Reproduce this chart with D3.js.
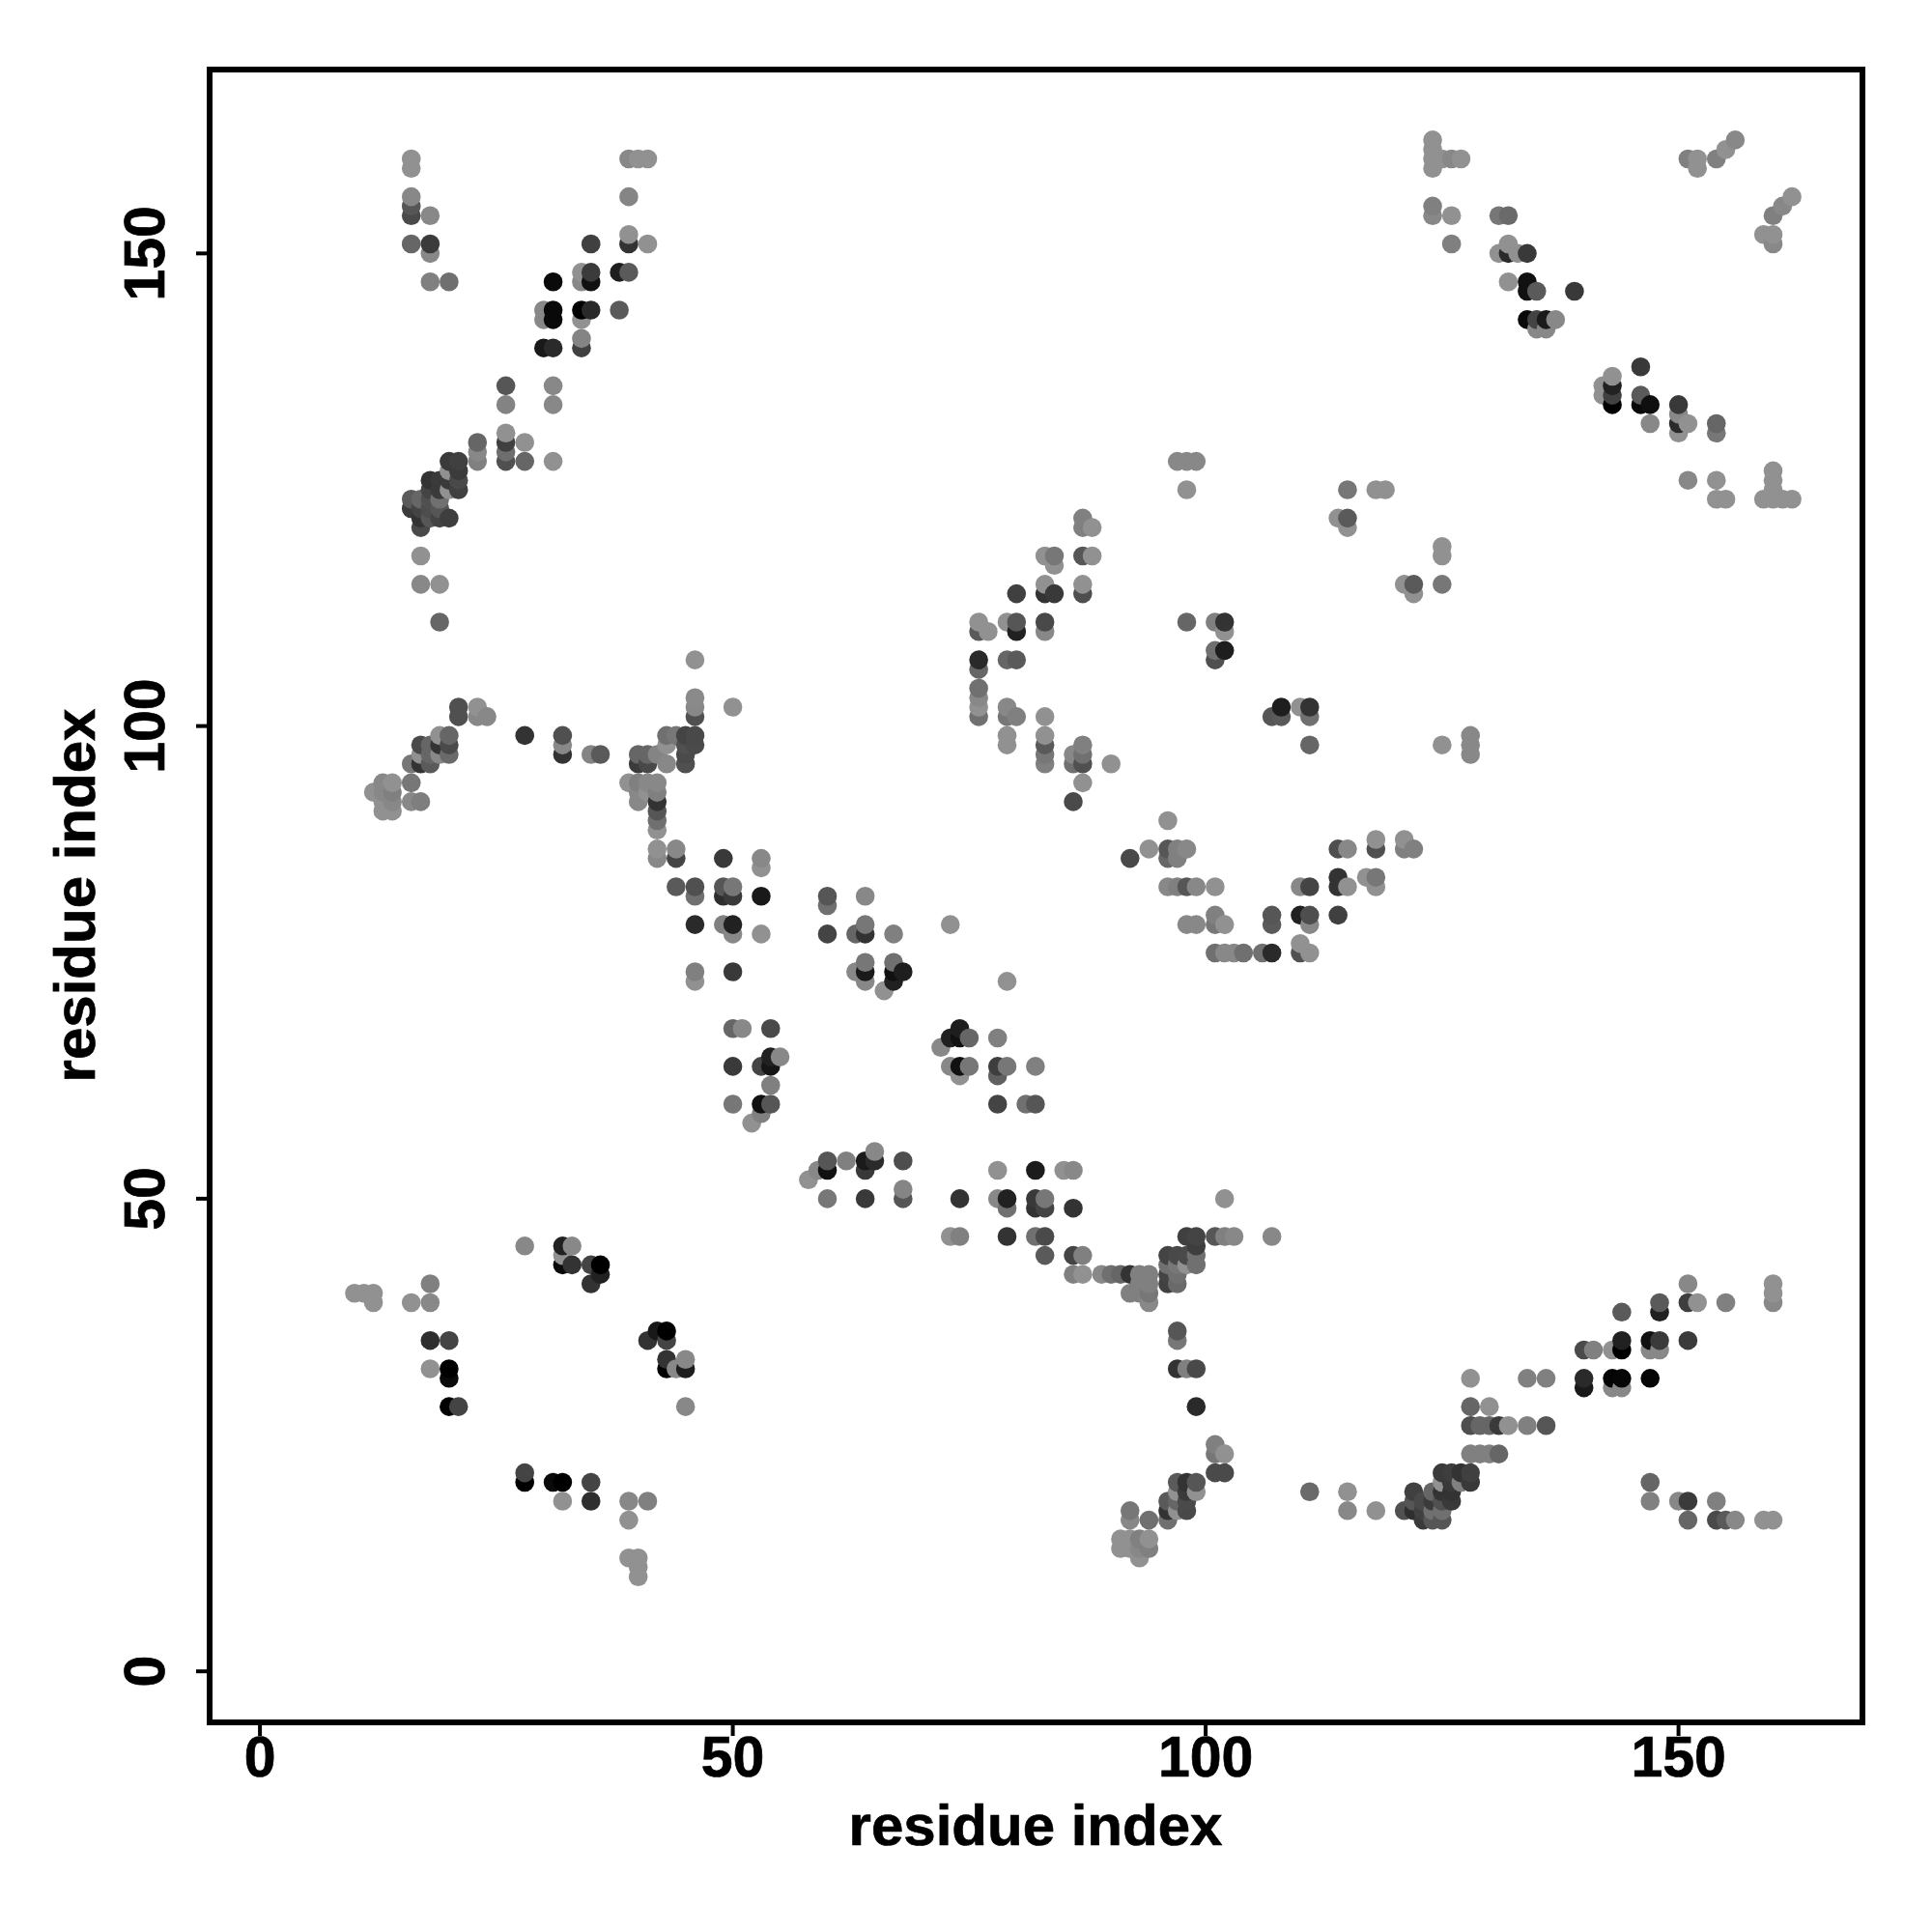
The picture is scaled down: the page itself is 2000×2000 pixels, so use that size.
<!DOCTYPE html>
<html><head><meta charset="utf-8">
<script src="https://cdn.jsdelivr.net/npm/d3@7/dist/d3.min.js"></script>
<style>html,body{margin:0;padding:0;background:#fff}svg{display:block}</style>
</head><body><div id="chart"></div>
<script>
// each contact: [residue i, residue j, strength 0..1]
const helixTopLeft = [[16,160,0],[16,159,0],[16,156,.06],[16,155,.41],[16,154,.49],[18,154,.06],[16,151,.3],[18,151,.59],[18,150,.06],[18,147,.12],[20,147,.23],
[35,151,.56],[39,151,.65],[39,152,0],[41,151,0],[39,156,.08],[39,160,.06],[40,160,0],[41,160,0],[31,147,.93],[34,148,0],[34,147,.06],[35,148,.59],[35,147,.88],[38,148,.79],[39,148,.38],
[30,144,.06],[30,143,.06],[31,144,.94],[31,143,.93],[34,144,1],[35,144,.72],[34,143,0],[38,144,.38],[34,141,.09],[34,140,.56],[30,140,.83],[31,140,.71],
[26,136,.41],[26,134,.1],[31,136,.06],[31,134,.06],[26,131,0],[26,130,.56],[26,129,.24],[26,128,.45],[28,130,0],[28,128,.3],[31,128,0],[23,130,.3],[23,129,.06],[23,128,.12]];
const clusterTopLeft = [[20,128,.6],[21,128,.56],[20,127,0],[21,127,.59],[20,126,.6],[21,126,.5],[18,126,.65],[19,126,.6],[18,125,.53],[19,125,.6],[20,125,0],[21,125,.56],[19,124,.23],[18,124,.45],[16,124,.38],[17,124,.3],[16,123,.59],[17,123,.53],[18,123,.47],[19,123,.41],[17,122,.65],[18,122,.41],[19,122,.53],[20,122,.57],[17,121,.5],[17,118,0],[17,115,.06],[19,115,0],[19,111,.3]];
const leftArm = [[46,107,0],[46,103,.05],[46,102,.06],[46,101,.45],[50,102,0],[21,102,.45],[21,101,.45],[23,102,0],[23,101,.06],[24,101,.06],[28,99,.65],[32,99,.45],[32,98,.06],[32,97,.65],[35,97,.09],[36,97,.38],
[19,99,0],[20,99,.3],[20,98,.49],[19,98,.65],[20,97,.27],[19,97,.06],[17,98,.49],[18,98,.3],[17,97,0],[18,97,.3],[17,96,.65],[18,96,.38],[16,96,.18],[16,94,.18],[16,92,.06],[17,92,.13],
[13,94,.06],[14,94,0],[12,93,0],[13,93,.06],[14,93,.12],[13,92,0],[14,92,.06],[13,91,0],[14,91,0]];
const diagonalUpper = [[43,99,.23],[44,99,.18],[45,99,.53],[46,99,.5],[46,98,.49],[45,98,.45],[43,98,0],[40,97,.3],[41,97,.3],[45,97,.49],[42,97,.09],[40,96,.59],[41,96,.5],[43,96,.06],[45,96,.45],
[39,94,0],[40,94,.12],[41,94,.06],[42,94,.06],[40,93,.06],[41,93,0],[42,93,.12],[40,92,.06],[42,92,.65],[42,91,.41],[42,90,.23],[42,89,0],[42,87,0],[44,87,.06],[42,86,.06],[44,86,.53],[49,86,.61],[53,86,.06],[53,85,0],
[44,83,.38],[46,83,.45],[49,83,.41],[50,83,.18],[46,82,.23],[49,82,.68],[50,82,.61],[53,82,.83],[46,79,.71],[49,79,.12],[50,79,.77],[50,78,.06],[53,78,0],[46,74,.12],[50,74,.61],[46,73,0],
[60,82,.41],[60,81,.23],[64,82,.06],[60,78,.53],[63,78,.3],[64,79,.18],[64,78,.65],[67,78,.12],[64,75,.18],[67,75,.23],[63,74,.06],[64,74,.82],[67,74,.88],[68,74,.79],[64,73,.06],[67,73,.77],[66,72,0]];
const diagonalMiddle = [[50,68,.3],[51,68,.06],[54,68,.49],[54,65,.77],[55,65,.06],[50,64,.6],[53,64,.53],[54,64,.85],[54,62,.12],[50,60,.18],[53,60,.88],[54,60,.41],[53,59,.12],[52,58,0],
[74,68,.79],[73,67,.77],[74,67,.88],[75,67,.3],[78,67,.12],[72,66,.06],[73,64,.06],[74,64,.88],[75,64,.18],[74,63,0],[78,64,.57],[79,64,.18],[78,63,.34],[82,64,.12],[78,60,.53],[81,60,.23],[82,60,.41],[79,73,0],[73,79,0]];
const diagonalLower = [[60,54,.41],[60,53,.88],[59,53,.06],[58,52,0],[62,54,.12],[64,54,.82],[65,54,.71],[64,53,.61],[65,55,.06],[68,54,.46],[60,50,.18],[64,50,.61],[68,51,.08],[68,50,.41],
[78,53,0],[82,53,.81],[85,53,0],[86,53,.06],[74,50,.65],[78,50,.06],[79,50,.77],[79,49,.23],[82,50,.61],[83,50,.18],[82,49,.65],[83,49,.53],[86,49,.65],
[73,46,0],[74,46,.12],[79,46,.65],[82,46,.23],[83,46,.49],[102,50,0],[83,44,.38],[86,44,.53],[87,44,.12],[86,42,.12],[87,42,0]];
const junction = [[98,46,.56],[99,46,.53],[101,46,.41],[102,46,.12],[103,46,.06],[107,46,.06],[99,45,.57],[96,44,.53],[97,44,.5],[98,44,.49],[99,44,.23],[96,43,.23],[97,43,.18],[98,43,0],[99,43,.23],[96,42,.53],[97,42,.23],[96,41,.55],[97,41,.27],
[89,42,.06],[90,42,.23],[91,42,.3],[92,42,.65],[93,42,.12],[94,42,.12],[93,41,.12],[94,41,.12],[92,40,.12],[93,40,.12],[94,40,.18],[94,39,.06],[97,36,.41],[97,35,.18],[97,32,.65],[98,32,.12],[99,32,.5],[99,28,.71],
[101,24,.12],[101,23,.18],[102,23,0],[101,21,.49],[102,21,.49],[97,20,.38],[98,20,.65],[99,20,.41],[97,19,0],[98,19,.6],[99,19,0],[96,18,.38],[97,18,.3],[98,18,.49],[92,17,.18],[96,17,.65],[97,17,0],[98,17,.5],[92,16,.06],[94,16,.23],[96,16,.23],
[91,14,0],[92,14,0],[93,14,.12],[94,14,0],[91,13,0],[92,13,0],[93,13,.06],[94,13,.12],[93,12,0],[111,19,.27]];
const bottomLeft = [[28,45,.06],[32,45,.77],[33,45,.06],[32,44,0],[32,43,.94],[33,43,.65],[35,43,.53],[36,43,1],[36,42,.77],[35,41,.65],[10,40,0],[11,40,0],[12,40,0],[12,39,0],[18,41,.12],[16,39,0],[18,39,.06],[18,35,.68],[20,35,.53],[18,32,0],[20,32,1],[20,31,.93],[20,28,1],[21,28,.53],
[42,36,.83],[43,36,1],[41,35,.65],[43,35,.53],[43,33,.65],[45,33,.06],[43,32,1],[44,32,.06],[45,32,.79],[45,28,.06],[28,21,.53],[28,20,1],[31,20,.93],[32,20,1],[35,20,.53],[32,18,0],[35,18,.68],[39,18,.06],[41,18,.12],[39,16,0],[39,12,0],[40,12,0],[40,11,0],[40,10,0]];
const helixBottomRight = [[151,41,.06],[160,41,0],[160,40,0],[160,39,.06],[148,39,.38],[148,38,.77],[151,39,.57],[152,39,0],[155,39,.12],[144,38,.38],[144,35,.77],[144,34,1],[143,34,0],[141,34,.12],[140,34,.49],[147,35,.88],[148,35,.6],[151,35,.59],[147,34,.06],[148,34,.06],
[128,31,0],[134,31,.12],[136,31,.12],[140,31,.71],[140,30,.83],[143,31,.97],[144,31,.96],[143,30,.06],[144,30,.06],[147,31,.96],[128,28,.3],[130,28,0],[128,26,.46],[129,26,.3],[130,26,.3],[131,26,.6],[132,26,0],[134,26,.12],[136,26,.41],[128,23,.12],[129,23,.12],[130,23,.12],[131,23,.3],
[125,21,.6],[126,21,.57],[127,21,.65],[128,21,.56],[125,20,0],[126,20,.61],[127,20,.12],[128,20,.61],[122,19,.56],[124,19,.3],[125,19,.65],[126,19,.65],[122,18,.41],[123,18,.5],[124,18,.59],[125,18,.45],[126,18,.61],[121,17,.45],[122,17,.68],[123,17,.56],[124,17,.23],[125,17,.23],[123,16,.6],[124,16,.41],[125,16,.41],
[115,19,0],[115,17,.06],[118,17,0],[147,20,.3],[147,18,.12],[150,18,.06],[151,18,.59],[154,18,.12],[151,16,.3],[154,16,.49],[155,16,.38],[156,16,.06],[159,16,0],[160,16,0]];
const centreUpper = [[97,128,.06],[98,128,.06],[99,128,.06],[98,125,0],[115,125,.18],[118,125,0],[119,125,0],[87,122,.12],[87,121,.12],[88,121,0],[114,122,0],[115,122,.38],[115,121,0],[125,119,0],[125,118,0],[83,118,0],[84,118,.18],[84,117,0],[87,118,.41],[88,118,0],[121,115,0],[122,115,.38],[122,114,0],[125,115,.18],
[80,114,.56],[83,115,0],[83,114,.65],[84,114,.61],[87,115,0],[87,114,.46],[76,111,0],[76,110,.38],[77,110,0],[79,111,0],[80,111,.41],[80,110,.77],[83,111,.5],[83,110,.06],[98,111,.3],[101,111,.12],[102,111,.65],[102,110,0],[101,108,.23],[102,108,.79],[101,107,.45],
[76,107,.71],[76,106,.3],[79,107,.3],[80,107,.38],[76,104,.23],[76,103,.06],[76,102,0],[76,101,.23],[79,102,.06],[79,101,.18],[80,101,.12],[83,101,0],[79,99,0],[79,98,0],[83,99,0],[83,98,.38],[83,97,.18],[83,96,.12],[86,97,.06],[86,96,.23],[87,98,.12],[87,97,.23],[87,96,.45],[90,96,0],[87,94,0],[86,92,.49],
[107,101,.41],[108,101,.38],[108,102,.79],[110,102,0],[111,102,.65],[111,101,.23],[111,98,.3],[125,98,0],[128,99,.06],[128,98,.06],[128,97,.06]];
const centreLower = [[96,90,0],[92,86,.5],[94,87,0],[96,87,.41],[97,87,.12],[98,87,.06],[96,86,.3],[97,86,.12],[118,88,0],[118,87,.45],[114,87,.46],[115,87,.06],[121,88,0],[121,87,.12],[122,87,.12],
[96,83,.06],[97,83,.12],[98,83,.41],[99,83,.06],[101,83,0],[110,83,.06],[111,83,.53],[114,84,.65],[114,83,.65],[115,83,0],[117,84,0],[118,84,.18],[118,83,0],[101,80,.12],[101,79,.18],[98,79,.06],[99,79,.06],[102,79,0],[107,80,.41],[107,79,.38],[110,80,.77],[111,80,.46],[111,79,.06],[114,80,.56],
[101,76,.23],[102,76,.06],[103,76,.06],[104,76,.23],[106,76,.23],[107,76,.71],[110,76,.45],[111,76,0],[110,77,0]];
const topRight = [[124,162,0],[124,161,0],[124,160,0],[124,159,0],[125,160,0],[126,160,.06],[127,160,0],[124,155,.12],[124,154,.06],[126,154,0],[126,151,.12],[131,154,.18],[132,154,.27],[131,150,0],[132,151,0],[132,150,.71],[133,150,0],[134,150,.61],[132,147,0],[134,147,.88],[134,146,.88],[135,146,.38],[139,146,.61],
[134,143,.93],[135,143,.53],[136,143,.82],[137,143,.06],[135,142,.06],[136,142,.06],[146,138,.61],[143,137,0],[142,136,0],[143,136,.77],[142,135,0],[143,135,.56],[143,134,1],[146,135,.38],[146,134,.93],[147,134,.9],[150,134,.61],[150,133,.06],[151,132,0],[150,132,.71],[150,131,0],[147,132,.06],[154,132,.3],[154,131,.18],
[151,126,.06],[154,126,0],[154,124,0],[155,124,0],[160,127,0],[160,126,0],[160,125,0],[159,124,0],[160,124,0],[161,124,0],[162,124,0],[151,160,.12],[152,160,0],[152,159,0],[154,160,.12],[155,161,0],[156,162,.06],[162,156,0],[161,155,.06],[160,154,.12],[159,152,0],[160,152,0],[160,151,.06]];
const tickValues = [0, 50, 100, 150];
const axisTitle = "residue index";

const contacts = [helixTopLeft, clusterTopLeft, leftArm, diagonalUpper, diagonalMiddle, diagonalLower, junction, bottomLeft, helixBottomRight, centreUpper, centreLower, topRight]
  .flat().map(([i, j, s]) => ({i, j, s}))
  .sort((a, b) => d3.ascending(a.i, b.i) || d3.ascending(a.j, b.j));

const frameLeft = 217, frameRight = 1928, frameTop = 72, frameBottom = 1783;
const xScale = d3.scaleLinear().domain([-5.27, 169.5]).range([frameLeft, frameRight]);
const yScale = d3.scaleLinear().domain([-5.45, 169.4]).range([frameBottom, frameTop]);
const shade = d3.scaleLinear().domain([0, 1]).range(["#919191", "#000000"]);
const font = "'Liberation Sans', Arial, Helvetica, sans-serif";

const svg = d3.select("#chart").append("svg").attr("width", 2000).attr("height", 2000);
svg.append("rect").attr("width", 2000).attr("height", 2000).attr("fill", "#fff");

svg.append("g").selectAll("circle").data(contacts).join("circle")
  .attr("cx", d => xScale(d.i) + 0.5).attr("cy", d => yScale(d.j) + 0.5).attr("r", 9.8)
  .attr("fill", d => shade(d.s));

const gx = svg.append("g").attr("transform", `translate(0,${frameBottom})`)
  .call(d3.axisBottom(xScale).tickValues(tickValues).tickSize(14));
const gy = svg.append("g").attr("transform", `translate(${frameLeft},0)`)
  .call(d3.axisLeft(yScale).tickValues(tickValues).tickSize(14));
[gx, gy].forEach(g => {
  g.select(".domain").remove();
  g.selectAll("line").attr("stroke", "#000").attr("stroke-width", 4);
  g.selectAll("text").attr("fill", "#000").attr("stroke", "#000").attr("stroke-width", 0.7).attr("dy", null).attr("x", 0).attr("y", 0)
    .style("font-family", font).style("font-weight", "bold").style("font-size", "59px");
});
gx.selectAll("text").attr("text-anchor", "middle").attr("transform", "translate(0,56)");
gy.selectAll("text").attr("text-anchor", "middle").attr("transform", "translate(-47,0) rotate(-90)");

svg.append("rect").attr("x", frameLeft).attr("y", frameTop).attr("width", frameRight - frameLeft).attr("height", frameBottom - frameTop)
  .attr("fill", "none").attr("stroke", "#000").attr("stroke-width", 6);

svg.append("text").text(axisTitle).attr("x", 1072).attr("y", 1910).attr("text-anchor", "middle")
  .attr("stroke", "#000").attr("stroke-width", 0.7)
  .style("font-family", font).style("font-weight", "bold").style("font-size", "60px");
svg.append("text").text(axisTitle).attr("text-anchor", "middle").attr("transform", "translate(98,927) rotate(-90)")
  .attr("stroke", "#000").attr("stroke-width", 0.7)
  .style("font-family", font).style("font-weight", "bold").style("font-size", "60px");
</script></body></html>
